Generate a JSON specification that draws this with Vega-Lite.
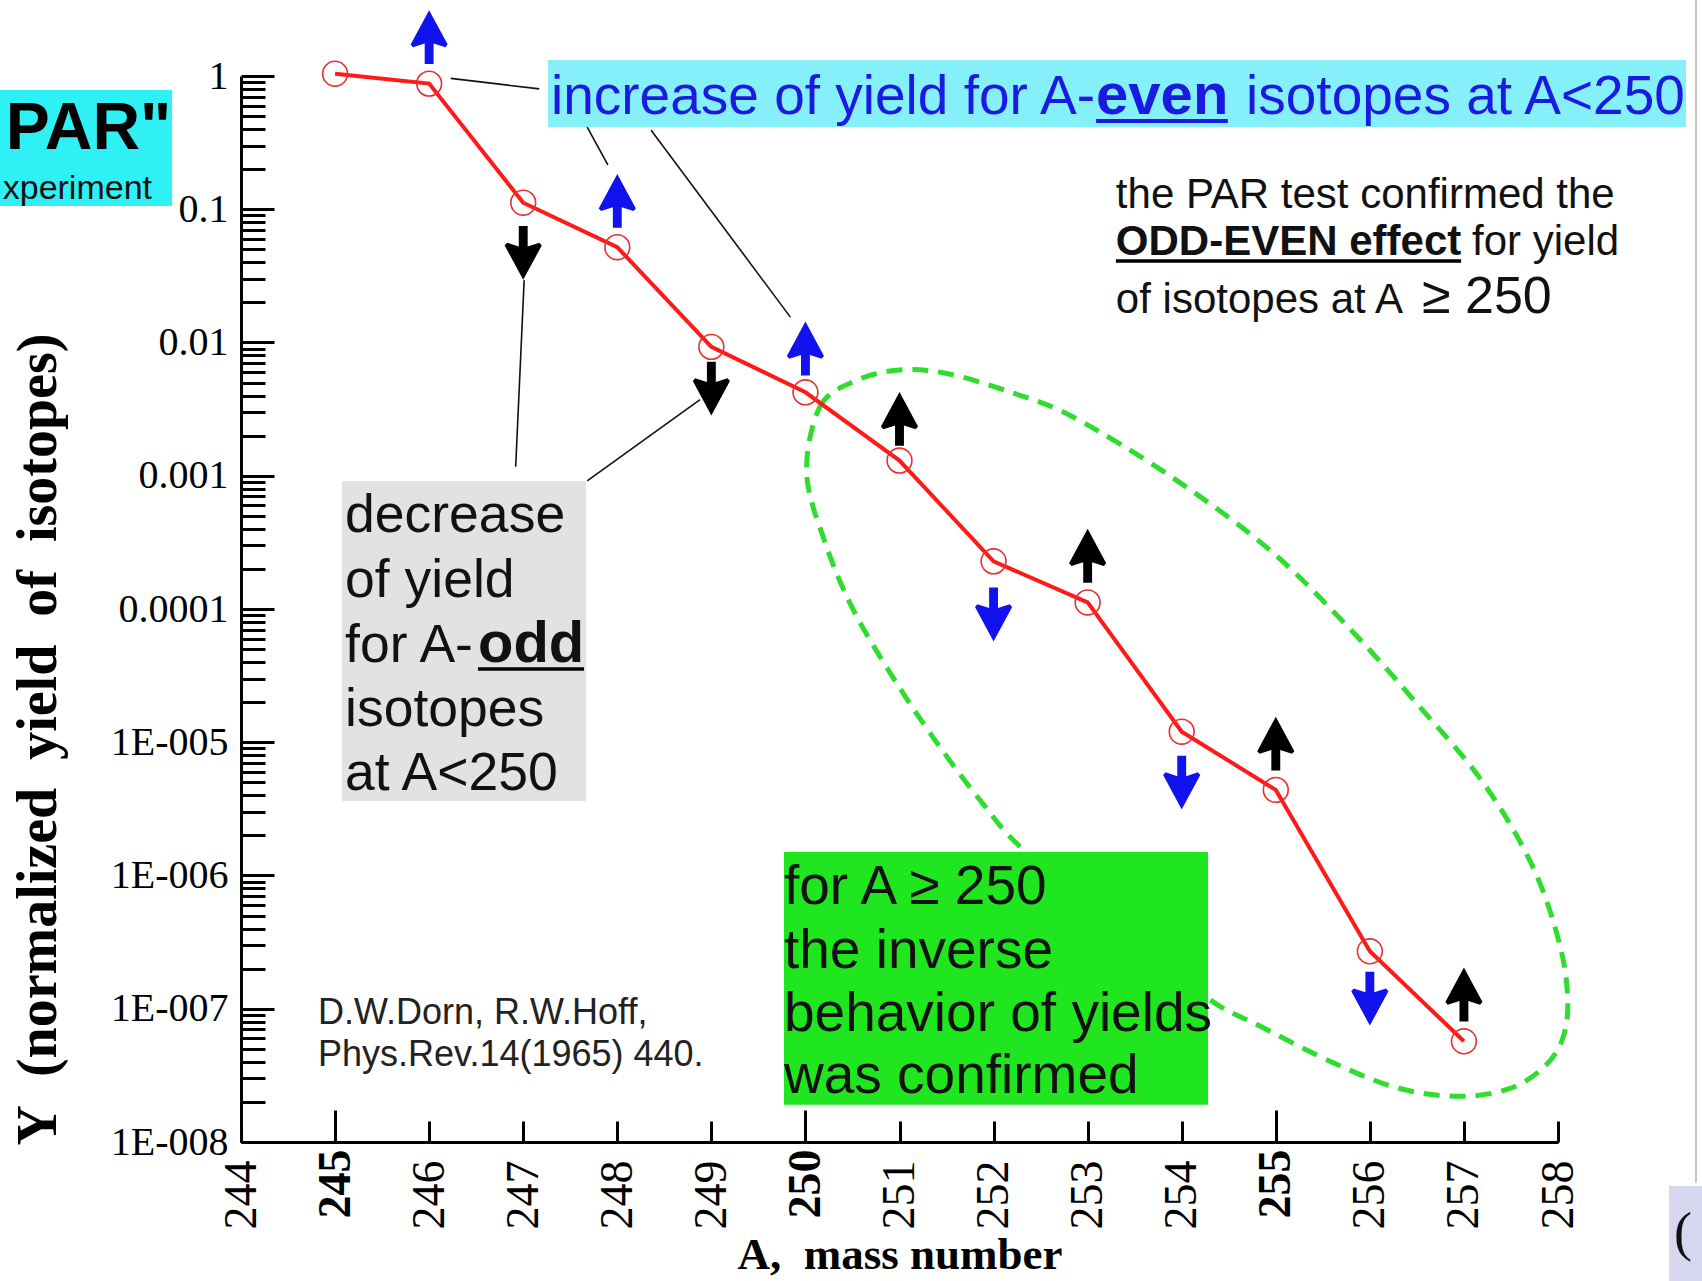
{
  "$schema": "https://vega.github.io/schema/vega-lite/v6.json",
  "width": 1317,
  "height": 1066,
  "autosize": {"type": "none"},
  "padding": {"left": 241, "top": 76, "right": 144, "bottom": 139},
  "background": "white",
  "config": {"view": {"stroke": null}},
  "datasets": {
    "pts": [
      {"A": 245, "Y": 1.04}, {"A": 246, "Y": 0.877}, {"A": 247, "Y": 0.112}, {"A": 248, "Y": 0.0519},
      {"A": 249, "Y": 0.00927}, {"A": 250, "Y": 0.00423}, {"A": 251, "Y": 0.0013}, {"A": 252, "Y": 0.000228},
      {"A": 253, "Y": 0.000112}, {"A": 254, "Y": 0.000012}, {"A": 255, "Y": 0.00000439}, {"A": 256, "Y": 0.00000027},
      {"A": 257, "Y": 0.000000057}
    ],
    "arrows": [
      {"A": 246, "Y": 1.96, "dir": "up", "parity": "even"},
      {"A": 247, "Y": 0.047, "dir": "down", "parity": "odd"},
      {"A": 248, "Y": 0.1156, "dir": "up", "parity": "even"},
      {"A": 249, "Y": 0.00451, "dir": "down", "parity": "odd"},
      {"A": 250, "Y": 0.00902, "dir": "up", "parity": "even"},
      {"A": 251, "Y": 0.00267, "dir": "up", "parity": "odd"},
      {"A": 252, "Y": 0.000091, "dir": "down", "parity": "even"},
      {"A": 253, "Y": 0.000251, "dir": "up", "parity": "odd"},
      {"A": 254, "Y": 0.00000498, "dir": "down", "parity": "even"},
      {"A": 255, "Y": 0.00000977, "dir": "up", "parity": "odd"},
      {"A": 256, "Y": 0.000000119, "dir": "down", "parity": "even"},
      {"A": 257, "Y": 0.000000128, "dir": "up", "parity": "odd"}
    ],
    "ellipse": [
      {"i": 1, "A": 250.013, "Y": 0.001043}, {"i": 2, "A": 250.152, "Y": 0.00327}, {"i": 3, "A": 250.498, "Y": 0.00504},
      {"i": 4, "A": 250.971, "Y": 0.0062}, {"i": 5, "A": 251.502, "Y": 0.00586}, {"i": 6, "A": 252.206, "Y": 0.00418},
      {"i": 7, "A": 252.841, "Y": 0.00277}, {"i": 8, "A": 253.903, "Y": 0.000968}, {"i": 9, "A": 254.942, "Y": 0.000275},
      {"i": 10, "A": 255.796, "Y": 0.00007}, {"i": 11, "A": 256.5, "Y": 0.0000195}, {"i": 12, "A": 257.204, "Y": 0.00000498},
      {"i": 13, "A": 257.735, "Y": 0.00000115}, {"i": 14, "A": 258.024, "Y": 0.000000292}, {"i": 15, "A": 258.104, "Y": 0.000000108},
      {"i": 16, "A": 258.035, "Y": 0.0000000561}, {"i": 17, "A": 257.827, "Y": 0.0000000352}, {"i": 18, "A": 257.481, "Y": 0.0000000251},
      {"i": 19, "A": 256.962, "Y": 0.000000022}, {"i": 20, "A": 256.327, "Y": 0.0000000251}, {"i": 21, "A": 255.634, "Y": 0.0000000386},
      {"i": 22, "A": 254.826, "Y": 0.0000000745}, {"i": 23, "A": 254.284, "Y": 0.000000119}, {"i": 24, "A": 253.441, "Y": 0.000000366},
      {"i": 25, "A": 252.345, "Y": 0.0000015}, {"i": 26, "A": 251.883, "Y": 0.00000348}, {"i": 27, "A": 251.364, "Y": 0.0000107},
      {"i": 28, "A": 250.902, "Y": 0.000033}, {"i": 29, "A": 250.498, "Y": 0.000102}, {"i": 30, "A": 250.21, "Y": 0.000314}
    ],
    "boxes": [
      {"box": "par", "A": 241.438, "A2": 243.267, "Y": 0.785, "Y2": 0.1057},
      {"box": "inc", "A": 247.264, "A2": 259.361, "Y": 1.318, "Y2": 0.414},
      {"box": "dec", "A": 245.074, "A2": 247.667, "Y": 0.000914, "Y2": 0.00000362},
      {"box": "grn", "A": 249.772, "A2": 254.28, "Y": 0.0000015, "Y2": 0.000000019},
      {"box": "lav", "A": 259.18, "A2": 259.531, "Y": 0.00000000468, "Y2": 0.000000000906}
    ],
    "links": [
      {"A": 246.23, "Y": 0.96, "A2": 247.17, "Y2": 0.8},
      {"A": 247.68, "Y": 0.414, "A2": 247.9, "Y2": 0.215},
      {"A": 248.36, "Y": 0.392, "A2": 249.84, "Y2": 0.0155},
      {"A": 247.01, "Y": 0.0294, "A2": 246.92, "Y2": 0.00117},
      {"A": 247.68, "Y": 0.000914, "A2": 248.88, "Y2": 0.00373}
    ],
    "border": [
      {"A": 259.467, "Y": 3.72, "Y2": 0.00000000492}
    ],
    "unders": [
      {"u": "blue", "A": 253.09, "A2": 254.49, "Y": 0.459},
      {"u": "note", "A": 253.3, "A2": 256.97, "Y": 0.0409},
      {"u": "dec", "A": 246.519, "A2": 247.646, "Y": 0.0000355}
    ],
    "texts": [
      {"g": "blue", "A": 247.295, "Y": 0.519, "t": "increase of yield for A-"},
      {"g": "blue", "A": 254.684, "Y": 0.519, "t": "isotopes at A<250"},
      {"g": "blueBold", "A": 253.09, "Y": 0.519, "t": "even"},
      {"g": "par", "A": 243.26, "Y": 0.283, "t": "PAR\""},
      {"g": "xper", "A": 243.054, "Y": 0.119, "t": "xperiment"},
      {"g": "note", "A": 253.3, "Y": 0.102, "t": "the PAR test confirmed the"},
      {"g": "note", "A": 257.086, "Y": 0.0454, "t": "for yield"},
      {"g": "note", "A": 253.3, "Y": 0.01665, "t": "of isotopes at A"},
      {"g": "noteBold", "A": 253.3, "Y": 0.0454, "t": "ODD-EVEN effect"},
      {"g": "noteBig", "A": 256.554, "Y": 0.01665, "t": "≥ 250"},
      {"g": "dec", "A": 245.106, "Y": 0.000379, "t": "decrease"},
      {"g": "dec", "A": 245.106, "Y": 0.000123, "t": "of yield"},
      {"g": "dec", "A": 245.106, "Y": 0.00004, "t": "for A-"},
      {"g": "dec", "A": 245.106, "Y": 0.0000132, "t": "isotopes"},
      {"g": "dec", "A": 245.106, "Y": 0.00000439, "t": "at A<250"},
      {"g": "decBold", "A": 246.519, "Y": 0.00004, "t": "odd"},
      {"g": "grn", "A": 249.772, "Y": 0.000000611, "t": "for A ≥ 250"},
      {"g": "grn", "A": 249.772, "Y": 0.000000202, "t": "the inverse"},
      {"g": "grn", "A": 249.772, "Y": 0.0000000681, "t": "behavior of yields"},
      {"g": "grn", "A": 249.772, "Y": 0.0000000233, "t": "was confirmed"},
      {"g": "ref", "A": 244.819, "Y": 0.0000000769, "t": "D.W.Dorn, R.W.Hoff,"},
      {"g": "ref", "A": 244.819, "Y": 0.0000000372, "t": "Phys.Rev.14(1965) 440."},
      {"g": "paren", "A": 259.234, "Y": 0.00000000155, "t": "("}
    ]
  },
  "layer": [
    {
      "data": {"name": "boxes"},
      "transform": [{"filter": "datum.box == 'par'"}],
      "mark": {"type": "rect", "color": "#2ef0f5"},
      "encoding": {
        "x": {"field": "A", "type": "quantitative",
          "scale": {"domain": [244, 258], "nice": false, "zero": false},
          "title": "A,\u00a0\u00a0mass number",
          "axis": {
            "values": [244, 245, 246, 247, 248, 249, 250, 251, 252, 253, 254, 255, 256, 257, 258],
            "format": "d",
            "labelAngle": -90,
            "labelFont": "Liberation Serif",
            "labelFontSize": 46,
            "labelColor": "black",
            "labelFontWeight": {"condition": {"test": "datum.value == 245 || datum.value == 250 || datum.value == 255", "value": "bold"}, "value": "normal"},
            "labelPadding": 39,
            "tickSize": {"condition": {"test": "datum.value == 245 || datum.value == 250 || datum.value == 255", "value": -32}, "value": -21},
            "tickWidth": 3,
            "tickColor": "black",
            "domainWidth": 3,
            "domainColor": "black",
            "grid": false,
            "labelFlush": false,
            "labelOverlap": false,
            "titleFont": "Liberation Serif",
            "titleFontWeight": "bold",
            "titleFontSize": 45,
            "titleColor": "black",
            "titleBaseline": "middle",
            "titleY": 112
          }
        },
        "x2": {"field": "A2"},
        "y": {"field": "Y", "type": "quantitative",
          "scale": {"type": "log", "domain": [1e-8, 1], "nice": false},
          "title": "Y\u00a0\u00a0(normalized\u00a0\u00a0yield\u00a0\u00a0of\u00a0\u00a0isotopes)",
          "axis": {
            "values": [1e-8, 2e-8, 3e-8, 4e-8, 5e-8, 6e-8, 7e-8, 8e-8, 9e-8,
                       1e-7, 2e-7, 3e-7, 4e-7, 5e-7, 6e-7, 7e-7, 8e-7, 9e-7,
                       1e-6, 2e-6, 3e-6, 4e-6, 5e-6, 6e-6, 7e-6, 8e-6, 9e-6,
                       1e-5, 2e-5, 3e-5, 4e-5, 5e-5, 6e-5, 7e-5, 8e-5, 9e-5,
                       0.0001, 0.0002, 0.0003, 0.0004, 0.0005, 0.0006, 0.0007, 0.0008, 0.0009,
                       0.001, 0.002, 0.003, 0.004, 0.005, 0.006, 0.007, 0.008, 0.009,
                       0.01, 0.02, 0.03, 0.04, 0.05, 0.06, 0.07, 0.08, 0.09,
                       0.1, 0.2, 0.3, 0.4, 0.5, 0.6, 0.7, 0.8, 0.9, 1],
            "labelExpr": "datum.value == 1 ? '1' : datum.value == 0.1 ? '0.1' : datum.value == 0.01 ? '0.01' : datum.value == 0.001 ? '0.001' : datum.value == 0.0001 ? '0.0001' : datum.value == 1e-5 ? '1E-005' : datum.value == 1e-6 ? '1E-006' : datum.value == 1e-7 ? '1E-007' : datum.value == 1e-8 ? '1E-008' : ''",
            "labelFont": "Liberation Serif",
            "labelFontSize": 40,
            "labelColor": "black",
            "labelPadding": 46,
            "labelFlush": false,
            "labelOverlap": false,
            "tickSize": {"condition": {"test": "indexof([1, 0.1, 0.01, 0.001, 0.0001, 1e-5, 1e-6, 1e-7, 1e-8], datum.value) >= 0", "value": -33}, "value": -24},
            "tickWidth": 3,
            "tickColor": "black",
            "domainWidth": 3,
            "domainColor": "black",
            "grid": false,
            "titleFont": "Liberation Serif",
            "titleFontWeight": "bold",
            "titleFontSize": 56,
            "titleColor": "black",
            "titleAngle": 270,
            "titleAlign": "left",
            "titleBaseline": "middle",
            "titleX": -203,
            "titleY": 1069
          }
        },
        "y2": {"field": "Y2"}
      }
    },
    {
      "data": {"name": "boxes"},
      "transform": [{"filter": "datum.box == 'inc'"}],
      "mark": {"type": "rect", "color": "#86f0fa"},
      "encoding": {"x": {"field": "A", "type": "quantitative"}, "x2": {"field": "A2"}, "y": {"field": "Y", "type": "quantitative"}, "y2": {"field": "Y2"}}
    },
    {
      "data": {"name": "boxes"},
      "transform": [{"filter": "datum.box == 'dec'"}],
      "mark": {"type": "rect", "color": "#e2e2e2"},
      "encoding": {"x": {"field": "A", "type": "quantitative"}, "x2": {"field": "A2"}, "y": {"field": "Y", "type": "quantitative"}, "y2": {"field": "Y2"}}
    },
    {
      "data": {"name": "boxes"},
      "transform": [{"filter": "datum.box == 'lav'"}],
      "mark": {"type": "rect", "color": "#d6d6ee"},
      "encoding": {"x": {"field": "A", "type": "quantitative"}, "x2": {"field": "A2"}, "y": {"field": "Y", "type": "quantitative"}, "y2": {"field": "Y2"}}
    },
    {
      "data": {"name": "border"},
      "mark": {"type": "rule", "color": "#c8c8c8", "strokeWidth": 2},
      "encoding": {"x": {"field": "A", "type": "quantitative"}, "y": {"field": "Y", "type": "quantitative"}, "y2": {"field": "Y2"}}
    },
    {
      "data": {"name": "ellipse"},
      "mark": {"type": "line", "interpolate": "cardinal-closed", "color": "#2fdd2f", "strokeWidth": 5, "strokeDash": [16, 10]},
      "encoding": {"x": {"field": "A", "type": "quantitative"}, "y": {"field": "Y", "type": "quantitative"}, "order": {"field": "i", "type": "quantitative"}}
    },
    {
      "data": {"name": "boxes"},
      "transform": [{"filter": "datum.box == 'grn'"}],
      "mark": {"type": "rect", "color": "#1fe61f"},
      "encoding": {"x": {"field": "A", "type": "quantitative"}, "x2": {"field": "A2"}, "y": {"field": "Y", "type": "quantitative"}, "y2": {"field": "Y2"}}
    },
    {
      "data": {"name": "links"},
      "mark": {"type": "rule", "color": "#111111", "strokeWidth": 1.6},
      "encoding": {"x": {"field": "A", "type": "quantitative"}, "x2": {"field": "A2"}, "y": {"field": "Y", "type": "quantitative"}, "y2": {"field": "Y2"}}
    },
    {
      "data": {"name": "pts"},
      "mark": {"type": "line", "color": "#ff1a1a", "strokeWidth": 4},
      "encoding": {"x": {"field": "A", "type": "quantitative"}, "y": {"field": "Y", "type": "quantitative"}}
    },
    {
      "data": {"name": "pts"},
      "mark": {"type": "point", "shape": "circle", "filled": false, "stroke": "#e83030", "strokeWidth": 1.6, "size": 616, "opacity": 1},
      "encoding": {"x": {"field": "A", "type": "quantitative"}, "y": {"field": "Y", "type": "quantitative"}}
    },
    {
      "data": {"name": "arrows"},
      "mark": {"type": "point", "filled": true, "size": 2900, "opacity": 1, "strokeWidth": 0},
      "encoding": {
        "x": {"field": "A", "type": "quantitative"},
        "y": {"field": "Y", "type": "quantitative"},
        "shape": {"field": "dir", "type": "nominal", "legend": null,
          "scale": {"domain": ["up", "down"], "range": [
            "M0,-1L0.69,0.28L0.6,0.38L0.165,0.24L0.165,1L-0.165,1L-0.165,0.24L-0.6,0.38L-0.69,0.28Z",
            "M0,1L0.69,-0.28L0.6,-0.38L0.165,-0.24L0.165,-1L-0.165,-1L-0.165,-0.24L-0.6,-0.38L-0.69,-0.28Z"]}},
        "color": {"field": "parity", "type": "nominal", "legend": null,
          "scale": {"domain": ["even", "odd"], "range": ["#1212ee", "#000000"]}}
      }
    },
    {
      "data": {"name": "unders"},
      "transform": [{"filter": "datum.u == 'blue'"}],
      "mark": {"type": "rule", "color": "#1a1ae0", "strokeWidth": 4},
      "encoding": {"x": {"field": "A", "type": "quantitative"}, "x2": {"field": "A2"}, "y": {"field": "Y", "type": "quantitative"}}
    },
    {
      "data": {"name": "unders"},
      "transform": [{"filter": "datum.u != 'blue'"}],
      "mark": {"type": "rule", "color": "#000000", "strokeWidth": 3.5},
      "encoding": {"x": {"field": "A", "type": "quantitative"}, "x2": {"field": "A2"}, "y": {"field": "Y", "type": "quantitative"}}
    },
    {
      "data": {"name": "texts"},
      "transform": [{"filter": "datum.g == 'blue'"}],
      "mark": {"type": "text", "font": "Liberation Sans", "fontSize": 55, "color": "#1a1ae0", "align": "left", "baseline": "alphabetic"},
      "encoding": {"x": {"field": "A", "type": "quantitative"}, "y": {"field": "Y", "type": "quantitative"}, "text": {"field": "t"}}
    },
    {
      "data": {"name": "texts"},
      "transform": [{"filter": "datum.g == 'blueBold'"}],
      "mark": {"type": "text", "font": "Liberation Sans", "fontSize": 58, "fontWeight": "bold", "color": "#1a1ae0", "align": "left", "baseline": "alphabetic"},
      "encoding": {"x": {"field": "A", "type": "quantitative"}, "y": {"field": "Y", "type": "quantitative"}, "text": {"field": "t"}}
    },
    {
      "data": {"name": "texts"},
      "transform": [{"filter": "datum.g == 'par'"}],
      "mark": {"type": "text", "font": "Liberation Sans", "fontSize": 66, "fontWeight": "bold", "color": "#000000", "align": "right", "baseline": "alphabetic"},
      "encoding": {"x": {"field": "A", "type": "quantitative"}, "y": {"field": "Y", "type": "quantitative"}, "text": {"field": "t"}}
    },
    {
      "data": {"name": "texts"},
      "transform": [{"filter": "datum.g == 'xper'"}],
      "mark": {"type": "text", "font": "Liberation Sans", "fontSize": 34, "color": "#111111", "align": "right", "baseline": "alphabetic"},
      "encoding": {"x": {"field": "A", "type": "quantitative"}, "y": {"field": "Y", "type": "quantitative"}, "text": {"field": "t"}}
    },
    {
      "data": {"name": "texts"},
      "transform": [{"filter": "datum.g == 'note'"}],
      "mark": {"type": "text", "font": "Liberation Sans", "fontSize": 42, "color": "#111111", "align": "left", "baseline": "alphabetic"},
      "encoding": {"x": {"field": "A", "type": "quantitative"}, "y": {"field": "Y", "type": "quantitative"}, "text": {"field": "t"}}
    },
    {
      "data": {"name": "texts"},
      "transform": [{"filter": "datum.g == 'noteBold'"}],
      "mark": {"type": "text", "font": "Liberation Sans", "fontSize": 42, "fontWeight": "bold", "color": "#111111", "align": "left", "baseline": "alphabetic"},
      "encoding": {"x": {"field": "A", "type": "quantitative"}, "y": {"field": "Y", "type": "quantitative"}, "text": {"field": "t"}}
    },
    {
      "data": {"name": "texts"},
      "transform": [{"filter": "datum.g == 'noteBig'"}],
      "mark": {"type": "text", "font": "Liberation Sans", "fontSize": 52, "color": "#111111", "align": "left", "baseline": "alphabetic"},
      "encoding": {"x": {"field": "A", "type": "quantitative"}, "y": {"field": "Y", "type": "quantitative"}, "text": {"field": "t"}}
    },
    {
      "data": {"name": "texts"},
      "transform": [{"filter": "datum.g == 'dec'"}],
      "mark": {"type": "text", "font": "Liberation Sans", "fontSize": 53.5, "color": "#111111", "align": "left", "baseline": "alphabetic"},
      "encoding": {"x": {"field": "A", "type": "quantitative"}, "y": {"field": "Y", "type": "quantitative"}, "text": {"field": "t"}}
    },
    {
      "data": {"name": "texts"},
      "transform": [{"filter": "datum.g == 'grn'"}],
      "mark": {"type": "text", "font": "Liberation Sans", "fontSize": 55, "color": "#111111", "align": "left", "baseline": "alphabetic"},
      "encoding": {"x": {"field": "A", "type": "quantitative"}, "y": {"field": "Y", "type": "quantitative"}, "text": {"field": "t"}}
    },
    {
      "data": {"name": "texts"},
      "transform": [{"filter": "datum.g == 'decBold'"}],
      "mark": {"type": "text", "font": "Liberation Sans", "fontSize": 58, "fontWeight": "bold", "color": "#111111", "align": "left", "baseline": "alphabetic"},
      "encoding": {"x": {"field": "A", "type": "quantitative"}, "y": {"field": "Y", "type": "quantitative"}, "text": {"field": "t"}}
    },
    {
      "data": {"name": "texts"},
      "transform": [{"filter": "datum.g == 'ref'"}],
      "mark": {"type": "text", "font": "Liberation Sans", "fontSize": 36, "color": "#222222", "align": "left", "baseline": "alphabetic"},
      "encoding": {"x": {"field": "A", "type": "quantitative"}, "y": {"field": "Y", "type": "quantitative"}, "text": {"field": "t"}}
    },
    {
      "data": {"name": "texts"},
      "transform": [{"filter": "datum.g == 'paren'"}],
      "mark": {"type": "text", "font": "Liberation Serif", "fontSize": 54, "color": "#111111", "align": "left", "baseline": "alphabetic"},
      "encoding": {"x": {"field": "A", "type": "quantitative"}, "y": {"field": "Y", "type": "quantitative"}, "text": {"field": "t"}}
    }
  ]
}
